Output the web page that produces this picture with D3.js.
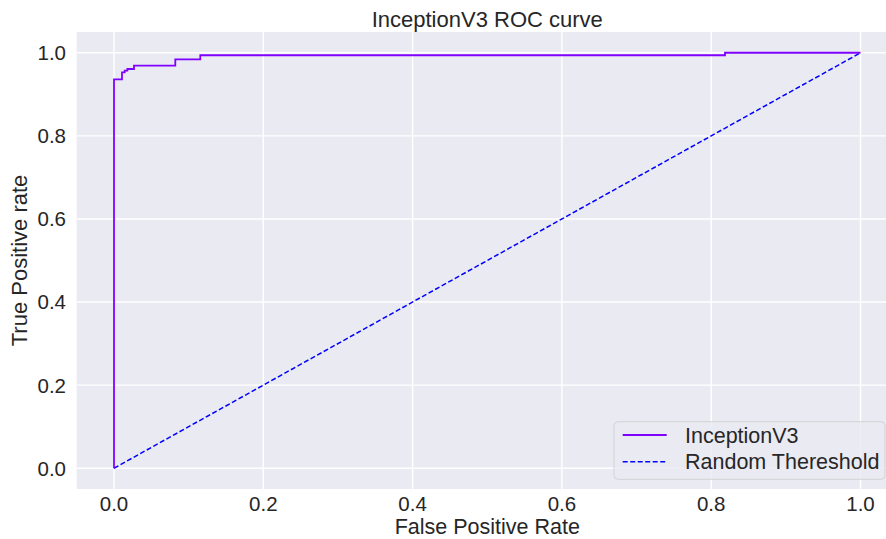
<!DOCTYPE html>
<html>
<head>
<meta charset="utf-8">
<title>InceptionV3 ROC curve</title>
<style>
    body { margin: 0; background: #ffffff; }
    text { font-family: "Liberation Sans", Arial, sans-serif; fill: #262626; }
</style>
</head>
<body>
<script src="https://cdn.jsdelivr.net/npm/d3@7"></script>
<script>
    // ROC points (step curve)
    var fpr = [0.0, 0.0, 0.0107, 0.0107, 0.0143, 0.0143, 0.0179, 0.0179, 0.0268, 0.0268, 0.0821, 0.0821, 0.1156, 0.1156, 0.8185, 0.8185, 1.0];
    var tpr = [0.0, 0.936, 0.936, 0.9526, 0.9526, 0.957, 0.957, 0.961, 0.961, 0.969, 0.969, 0.984, 0.984, 0.994, 0.994, 1.0, 1.0];
    var randX = [0, 1];
    var randY = [0, 1];
    var xTicks = [0.0, 0.2, 0.4, 0.6, 0.8, 1.0];
    var yTicks = [0.0, 0.2, 0.4, 0.6, 0.8, 1.0];
    var seriesNames = ["InceptionV3", "Random Thereshold"];
    var seriesColors = ["#8000ff", "#0000ff"];

    var width = 886, height = 539;
    var x0 = 114, unitX = 746.5;   // pixel of fpr 0 and pixels per unit
    var plotLeft = x0 - 0.05 * unitX, plotRight = x0 + 1.05 * unitX; // right side runs past the picture
    var plotTop = 32, plotBottom = 489;

    var svg = d3.select("body")
        .append("svg")
        .attr("width", width)
        .attr("height", height);

    var x = d3.scaleLinear().domain([-0.05, 1.05]).range([plotLeft, plotRight]);
    var y = d3.scaleLinear().domain([-0.05, 1.05]).range([plotBottom, plotTop]);

    // background
    svg.append("rect")
        .attr("x", plotLeft)
        .attr("y", plotTop)
        .attr("width", plotRight - plotLeft)
        .attr("height", plotBottom - plotTop)
        .attr("fill", "#eaeaf2");

    // grid
    svg.selectAll("line.gx")
        .data(xTicks)
        .enter()
        .append("line")
        .attr("class", "gx")
        .attr("x1", function(d) { return x(d); })
        .attr("x2", function(d) { return x(d); })
        .attr("y1", plotTop)
        .attr("y2", plotBottom)
        .attr("stroke", "#ffffff")
        .attr("stroke-width", 1.4);

    svg.selectAll("line.gy")
        .data(yTicks)
        .enter()
        .append("line")
        .attr("class", "gy")
        .attr("x1", plotLeft)
        .attr("x2", plotRight)
        .attr("y1", function(d) { return y(d); })
        .attr("y2", function(d) { return y(d); })
        .attr("stroke", "#ffffff")
        .attr("stroke-width", 1.4);

    // tick labels
    svg.selectAll("text.tx")
        .data(xTicks)
        .enter()
        .append("text")
        .attr("class", "tx")
        .attr("x", function(d) { return x(d); })
        .attr("y", 510.5)
        .attr("text-anchor", "middle")
        .attr("font-size", 20.5)
        .text(function(d) { return d.toFixed(1); });

    svg.selectAll("text.ty")
        .data(yTicks)
        .enter()
        .append("text")
        .attr("class", "ty")
        .attr("x", 66)
        .attr("y", function(d) { return y(d); })
        .attr("dy", "0.36em")
        .attr("text-anchor", "end")
        .attr("font-size", 20.5)
        .text(function(d) { return d.toFixed(1); });

    // lines
    var line = d3.line()
        .x(function(d) { return x(d[0]); })
        .y(function(d) { return y(d[1]); });

    svg.append("path")
        .datum(d3.zip(randX, randY))
        .attr("d", line)
        .attr("fill", "none")
        .attr("stroke", seriesColors[1])
        .attr("stroke-width", 1.5)
        .attr("stroke-dasharray", "5,2.5");

    svg.append("path")
        .datum(d3.zip(fpr, tpr))
        .attr("d", line)
        .attr("fill", "none")
        .attr("stroke", seriesColors[0])
        .attr("stroke-width", 1.8);

    // titles
    var cx = (plotLeft + plotRight) / 2;
    svg.append("text")
        .attr("x", cx)
        .attr("y", 27)
        .attr("text-anchor", "middle")
        .attr("font-size", 22)
        .text("InceptionV3 ROC curve");

    svg.append("text")
        .attr("x", cx)
        .attr("y", 533.5)
        .attr("text-anchor", "middle")
        .attr("font-size", 21.5)
        .text("False Positive Rate");

    svg.append("text")
        .attr("transform", "translate(27," + ((plotTop + plotBottom) / 2) + ") rotate(-90)")
        .attr("text-anchor", "middle")
        .attr("font-size", 22)
        .text("True Positive rate");

    // legend
    var lg = svg.append("g");
    lg.append("rect")
        .attr("x", 614)
        .attr("y", 421.7)
        .attr("width", 271)
        .attr("height", 57.6)
        .attr("rx", 4)
        .attr("fill", "rgba(234,234,242,0.8)")
        .attr("stroke", "rgba(204,204,204,0.8)")
        .attr("stroke-width", 1);

    var items = lg.selectAll("g.item")
        .data(seriesNames)
        .enter()
        .append("g")
        .attr("class", "item")
        .attr("transform", function(d, i) { return "translate(0," + (435 + i * 26.7) + ")"; });

    items.append("line")
        .attr("x1", 622.7)
        .attr("x2", 666.7)
        .attr("y1", 0)
        .attr("y2", 0)
        .attr("stroke", function(d, i) { return seriesColors[i]; })
        .attr("stroke-width", function(d, i) { return i == 0 ? 1.8 : 1.5; })
        .attr("stroke-dasharray", function(d, i) { return i == 0 ? null : "5,2.5"; });

    items.append("text")
        .attr("x", 685)
        .attr("y", 7.5)
        .attr("font-size", 21.5)
        .text(function(d) { return d; });
</script>
</body>
</html>
